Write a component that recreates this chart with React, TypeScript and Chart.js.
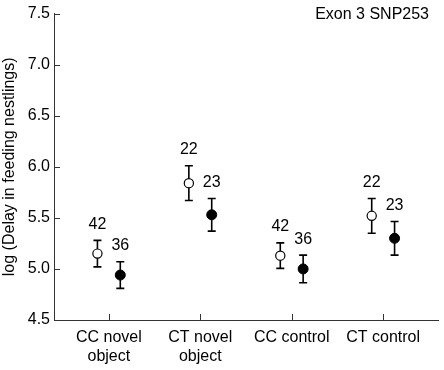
import React, { useEffect, useRef } from "react";
import { Chart, registerables } from "chart.js";

Chart.register(...registerables);

// Groups along the x axis (multi-line labels)
const categories: string[][] = [
  ["CC novel", "object"],
  ["CT novel", "object"],
  ["CC control"],
  ["CT control"],
];

// Open circles
const openMeans = [5.15, 5.84, 5.13, 5.52];
const openErrs = [0.13, 0.17, 0.125, 0.17];
const openN = [42, 22, 42, 22];

// Filled circles
const filledMeans = [4.94, 5.53, 5.0, 5.3];
const filledErrs = [0.13, 0.16, 0.135, 0.165];
const filledN = [36, 23, 36, 23];

const yTicks = [4.5, 5.0, 5.5, 6.0, 6.5, 7.0, 7.5];
const panelLabel = "Exon 3 SNP253";
const yTitle = "log (Delay in feeding nestlings)";

const FONT = "'Liberation Sans', Arial, sans-serif";
const OFFSET = 0.125;

const seriesMeta = [
  { errs: openErrs, n: openN },
  { errs: filledErrs, n: filledN },
];

const markerPlugin = {
  id: "markerExtras",
  beforeDatasetsDraw(chart: any) {
    const { ctx, scales } = chart;
    const xs = scales.x;
    const ys = scales.y;
    ctx.save();
    ctx.strokeStyle = "#000";
    ctx.lineWidth = 1.6;
    chart.data.datasets.forEach((ds: any, di: number) => {
      const errs = seriesMeta[di].errs;
      ds.data.forEach((p: any, i: number) => {
        const x = xs.getPixelForValue(p.x);
        const yTop = ys.getPixelForValue(p.y + errs[i]);
        const yBot = ys.getPixelForValue(p.y - errs[i]);
        const cap = 4;
        ctx.beginPath();
        ctx.moveTo(x, yTop);
        ctx.lineTo(x, yBot);
        ctx.moveTo(x - cap, yTop);
        ctx.lineTo(x + cap, yTop);
        ctx.moveTo(x - cap, yBot);
        ctx.lineTo(x + cap, yBot);
        ctx.stroke();
      });
    });
    ctx.restore();
  },
  afterDatasetsDraw(chart: any) {
    const { ctx, scales, chartArea } = chart;
    const xs = scales.x;
    const ys = scales.y;
    ctx.save();
    // sample sizes above each error bar
    ctx.fillStyle = "#000";
    ctx.font = `16px ${FONT}`;
    ctx.textAlign = "center";
    ctx.textBaseline = "middle";
    chart.data.datasets.forEach((ds: any, di: number) => {
      const { errs, n } = seriesMeta[di];
      ds.data.forEach((p: any, i: number) => {
        const x = xs.getPixelForValue(p.x);
        const yTop = ys.getPixelForValue(p.y + errs[i]);
        ctx.fillText(String(n[i]), x, yTop - 16);
      });
    });
    // inward tick marks
    ctx.strokeStyle = "#333";
    ctx.lineWidth = 1;
    ctx.beginPath();
    yTicks.forEach((v) => {
      const y = Math.round(ys.getPixelForValue(v)) + 0.5;
      ctx.moveTo(chartArea.left, y);
      ctx.lineTo(chartArea.left + 6, y);
    });
    categories.forEach((_, i) => {
      const x = Math.round(xs.getPixelForValue(i + 1)) + 0.5;
      ctx.moveTo(x, chartArea.bottom);
      ctx.lineTo(x, chartArea.bottom - 6);
    });
    ctx.stroke();
    // panel label
    ctx.font = `16px ${FONT}`;
    ctx.textAlign = "right";
    ctx.textBaseline = "middle";
    ctx.fillText(panelLabel, 429, 14.5);
    ctx.restore();
  },
};

export default function App() {
  const canvasRef = useRef<HTMLCanvasElement | null>(null);

  useEffect(() => {
    if (!canvasRef.current) return;
    const chart = new Chart(canvasRef.current, {
      type: "scatter",
      data: {
        datasets: [
          {
            label: "open",
            data: openMeans.map((m, i) => ({ x: i + 1 - OFFSET, y: m })),
            pointStyle: "circle",
            pointRadius: 4.6,
            pointBackgroundColor: "#fff",
            pointBorderColor: "#000",
            pointBorderWidth: 1.2,
          },
          {
            label: "filled",
            data: filledMeans.map((m, i) => ({ x: i + 1 + OFFSET, y: m })),
            pointStyle: "circle",
            pointRadius: 5,
            pointBackgroundColor: "#000",
            pointBorderColor: "#000",
            pointBorderWidth: 1,
          },
        ],
      },
      options: {
        animation: false,
        responsive: false,
        layout: { padding: { left: 0, top: 10, right: 6, bottom: 0 } },
        plugins: {
          legend: { display: false },
          tooltip: { enabled: false },
        },
        scales: {
          x: {
            type: "linear",
            min: 0.4,
            max: 4.6,
            afterBuildTicks: (scale: any) => {
              scale.ticks = categories.map((_, i) => ({ value: i + 1 }));
            },
            afterFit: (scale: any) => {
              scale.height = 50;
            },
            ticks: {
              autoSkip: false,
              maxRotation: 0,
              padding: 8,
              color: "#000",
              font: { family: FONT, size: 16 },
              callback: (v: any) => categories[Math.round(Number(v)) - 1] || "",
            },
            grid: { display: false, drawTicks: false },
            border: { display: true, color: "#333", width: 1 },
          },
          y: {
            min: 4.5,
            max: 7.5,
            afterBuildTicks: (scale: any) => {
              scale.ticks = yTicks.map((v) => ({ value: v }));
            },
            afterFit: (scale: any) => {
              scale.width = 54;
            },
            ticks: {
              padding: 4,
              color: "#000",
              font: { family: FONT, size: 16 },
              callback: (v: any) => Number(v).toFixed(1),
            },
            grid: { display: false, drawTicks: false },
            border: { display: true, color: "#333", width: 1 },
            title: {
              display: true,
              text: yTitle,
              color: "#000",
              font: { family: FONT, size: 16 },
              padding: { top: 0, bottom: 0 },
            },
          },
        },
      },
      plugins: [markerPlugin],
    });
    return () => chart.destroy();
  }, []);

  return (
    <div style={{ position: "absolute", left: 0, top: 0, width: 444, height: 370, background: "#fff" }}>
      <canvas ref={canvasRef} width={444} height={370} />
    </div>
  );
}
